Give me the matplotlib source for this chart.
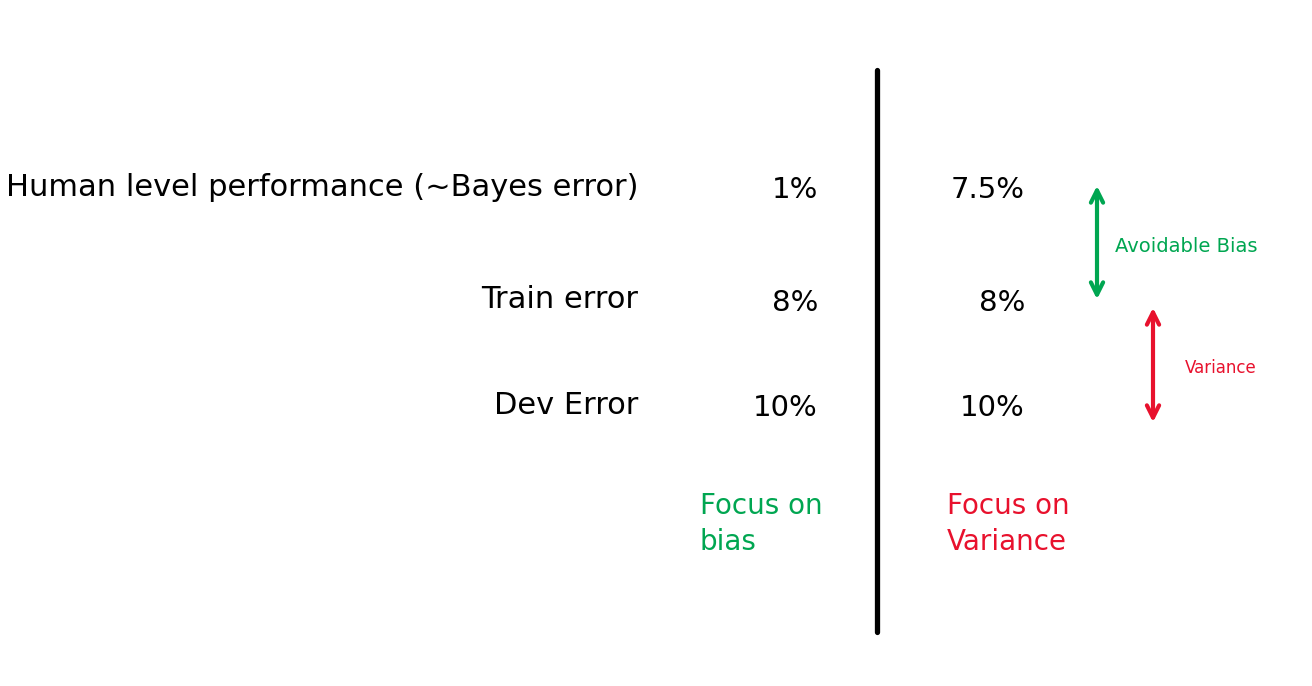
import matplotlib.pyplot as plt

# table content
row_labels = ["Human level performance (~Bayes error)", "Train error", "Dev Error"]
case_a = ["1%", "8%", "10%"]
case_b = ["7.5%", "8%", "10%"]
row_y = [187, 300, 405]
focus_a = "Focus on\nbias"
focus_b = "Focus on\nVariance"

green = "#00a651"
red = "#e8112d"

fig = plt.figure(figsize=(13.12, 6.86), dpi=100)
ax = fig.add_axes([0, 0, 1, 1])
ax.set_xlim(0, 1312)
ax.set_ylim(686, 0)
ax.axis("off")

for lab, a, b, y in zip(row_labels, case_a, case_b, row_y):
    ax.text(638, y, lab, ha="right", va="center", fontsize=22, color="black")
    ax.text(818, y + 3, a, ha="right", va="center", fontsize=21, color="black")
    ax.text(1025, y + 3, b, ha="right", va="center", fontsize=21, color="black")

# divider
ax.plot([877, 877], [70, 632], color="black", lw=3.8, solid_capstyle="round")

# arrows
ax.annotate("", xy=(1097, 183), xytext=(1097, 302),
            arrowprops=dict(arrowstyle="<->", color=green, lw=3, mutation_scale=22))
ax.text(1115, 246, "Avoidable Bias", ha="left", va="center", fontsize=14, color=green)
ax.annotate("", xy=(1153, 305), xytext=(1153, 425),
            arrowprops=dict(arrowstyle="<->", color=red, lw=3, mutation_scale=22))
ax.text(1185, 368, "Variance", ha="left", va="center", fontsize=12, color=red)

ax.text(700, 524, focus_a, ha="left", va="center", fontsize=20, color=green, linespacing=1.4)
ax.text(947, 524, focus_b, ha="left", va="center", fontsize=20, color=red, linespacing=1.4)

fig.savefig("out.png", dpi=100)
